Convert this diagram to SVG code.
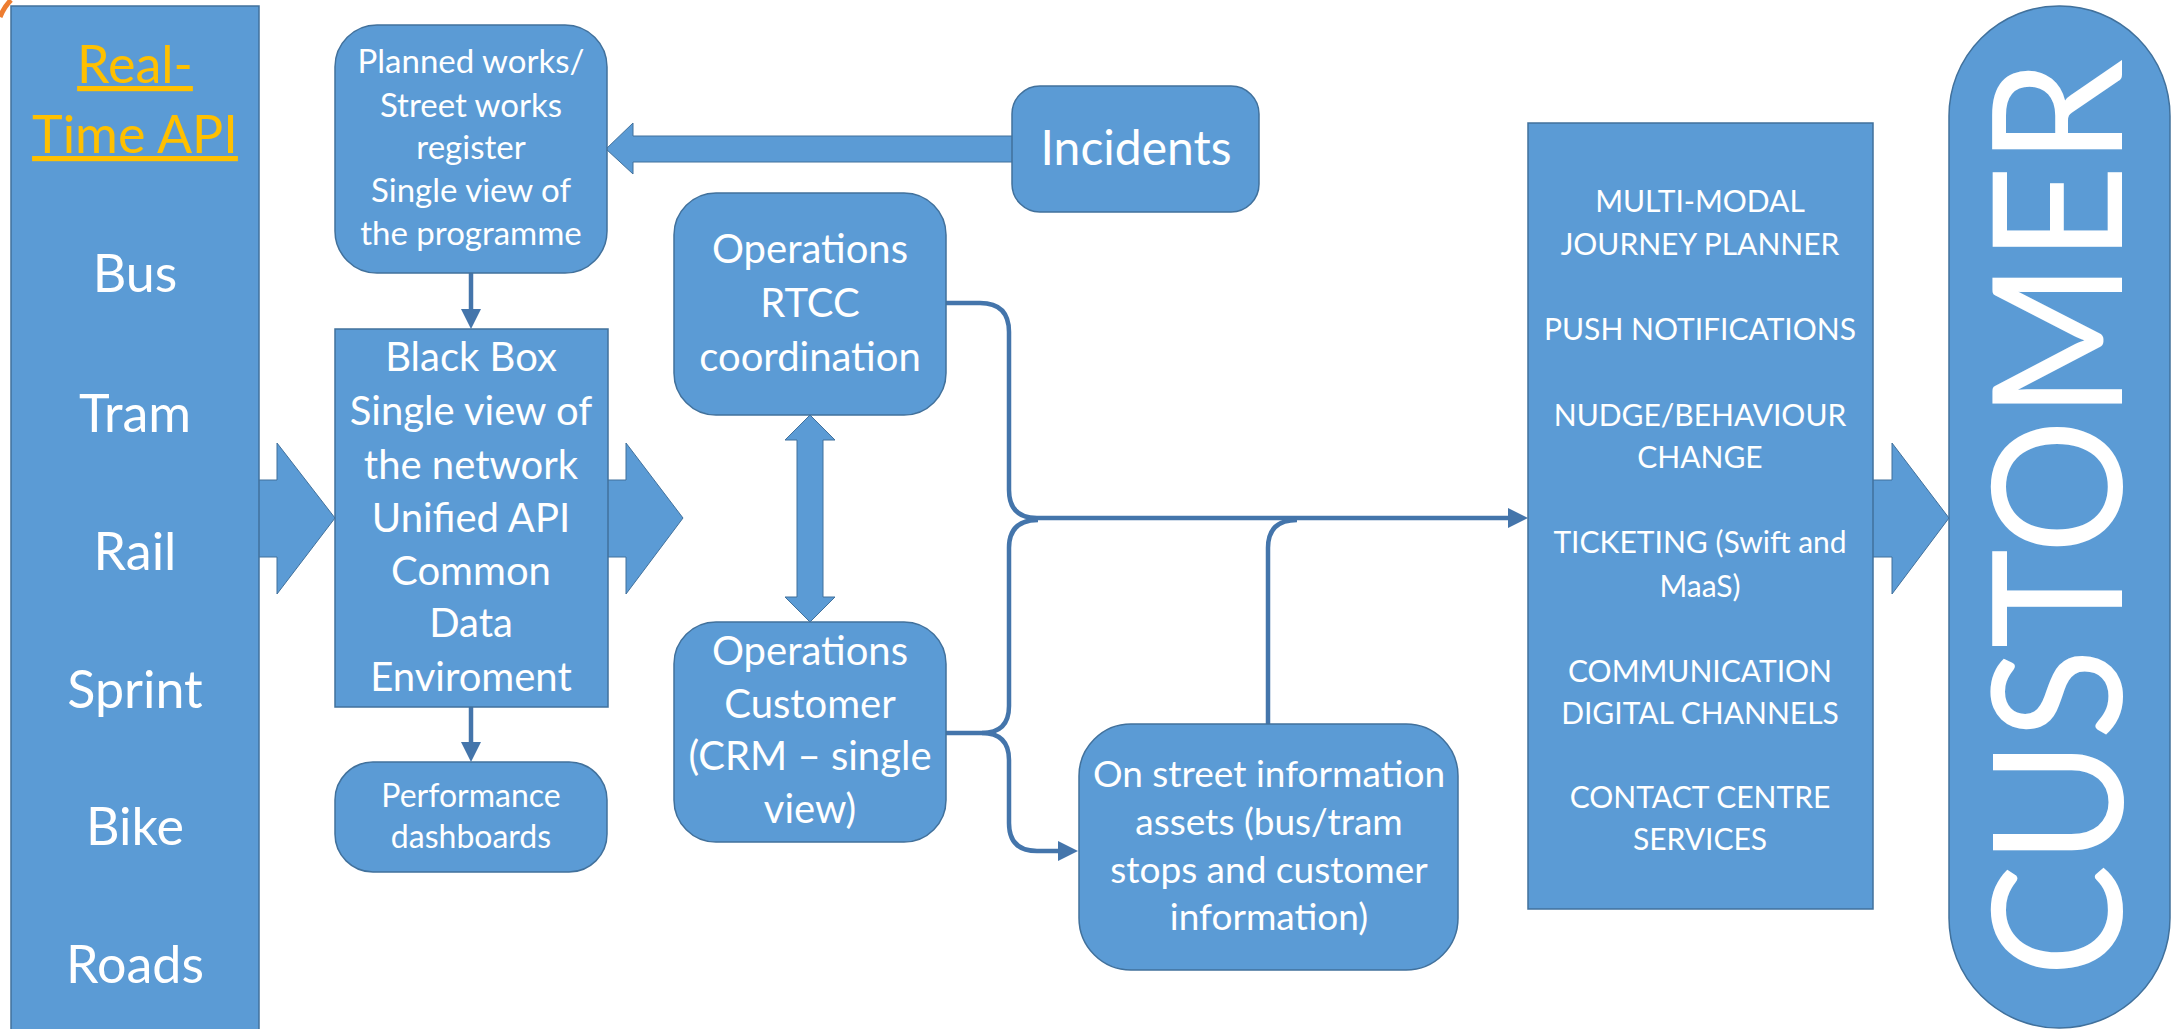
<svg xmlns="http://www.w3.org/2000/svg" width="2179" height="1029" viewBox="0 0 2179 1029">
  <style>
    .box { fill: #5B9BD5; stroke: #41719C; stroke-width: 1.5; }
    .blk { fill: #5B9BD5; stroke: #41719C; stroke-width: 1; }
    .t { font-family: Lato, "Open Sans", "Liberation Sans", sans-serif; fill: #FFFFFF; text-anchor: middle; }
    .gold { fill: #FFC000; text-decoration: underline; }
    .con { fill: none; stroke: #4475AB; stroke-width: 4.5; }
  </style>
  <defs>
    <marker id="ah" viewBox="0 0 20 20" refX="10" refY="10" markerWidth="20" markerHeight="20" markerUnits="userSpaceOnUse" orient="auto">
      <path d="M0,0 L20,10 L0,20 z" fill="#4475AB"/>
    </marker>
  </defs>
  <rect width="2179" height="1029" fill="#FFFFFF"/>
  <path d="M0,17 Q4,7 11,0" fill="none" stroke="#ED7D31" stroke-width="5"/>

  <!-- block arrows -->
  <g id="block-arrows">
    <polygon class="blk" points="240,480 277,480 277,443 335,518 277,594 277,557 240,557"/>
    <polygon class="blk" points="600,480 626,480 626,443 683,518 626,594 626,557 600,557"/>
    <polygon class="blk" points="1860,480 1892,480 1892,443 1949,518 1892,594 1892,557 1860,557"/>
    <polygon class="blk" points="1015,136 633,136 633,123 606,149 633,174 633,162 1015,162"/>
    <polygon class="blk" points="810,415 835,440 823,440 823,597 835,597 810,622 785,597 797,597 797,440 785,440"/>
  </g>

  <g id="connectors">
    <path class="con" d="M471,273 V319" marker-end="url(#ah)"/>
    <path class="con" d="M471,707 V752" marker-end="url(#ah)"/>
    <path class="con" d="M945,303 H980 Q1009,303 1009,332 V490 Q1009,518 1037,518 H1518" marker-end="url(#ah)"/>
    <path class="con" d="M945,733 H982 Q1009,733 1009,706 V548 Q1009,520 1038,520"/>
    <path class="con" d="M982,733 Q1009,733 1009,760 V823 Q1009,851 1037,851 H1068" marker-end="url(#ah)"/>
    <path class="con" d="M1268,724 V548 Q1268,520 1297,520"/>
  </g>

  <g id="realtime-panel">
    <rect class="box" x="11" y="6" width="248" height="1030"/>
    <text class="t gold" x="135" y="83" font-size="52">Real-</text>
    <text class="t gold" x="135" y="153" font-size="52">Time API</text>
    <text class="t" x="135" y="292" font-size="52">Bus</text>
    <text class="t" x="135" y="432" font-size="52">Tram</text>
    <text class="t" x="135" y="570" font-size="52">Rail</text>
    <text class="t" x="135" y="708" font-size="52">Sprint</text>
    <text class="t" x="135" y="845" font-size="52">Bike</text>
    <text class="t" x="135" y="983" font-size="52">Roads</text>
  </g>

  <g id="planned-works">
    <rect class="box" x="335" y="25" width="272" height="248" rx="42"/>
    <text class="t" x="471" y="73" font-size="33">Planned works/</text>
    <text class="t" x="471" y="117" font-size="33">Street works</text>
    <text class="t" x="471" y="159" font-size="33">register</text>
    <text class="t" x="471" y="202" font-size="33">Single view of</text>
    <text class="t" x="471" y="245" font-size="33">the programme</text>
  </g>

  <g id="black-box">
    <rect class="box" x="335" y="329" width="273" height="378"/>
    <text class="t" x="471" y="371" font-size="40">Black Box</text>
    <text class="t" x="471" y="425" font-size="40">Single view of</text>
    <text class="t" x="471" y="479" font-size="40">the network</text>
    <text class="t" x="471" y="532" font-size="40">Unified API</text>
    <text class="t" x="471" y="585" font-size="40">Common</text>
    <text class="t" x="471" y="637" font-size="40">Data</text>
    <text class="t" x="471" y="691" font-size="40">Enviroment</text>
  </g>

  <g id="performance">
    <rect class="box" x="335" y="762" width="272" height="110" rx="38"/>
    <text class="t" x="471" y="807" font-size="32">Performance</text>
    <text class="t" x="471" y="848" font-size="32">dashboards</text>
  </g>

  <g id="incidents">
    <rect class="box" x="1012" y="86" width="247" height="126" rx="28"/>
    <text class="t" x="1136" y="165" font-size="48">Incidents</text>
  </g>

  <g id="ops-rtcc">
    <rect class="box" x="674" y="193" width="272" height="222" rx="42"/>
    <text class="t" x="810" y="263" font-size="40">Operations</text>
    <text class="t" x="810" y="317" font-size="40">RTCC</text>
    <text class="t" x="810" y="371" font-size="40">coordination</text>
  </g>

  <g id="ops-customer">
    <rect class="box" x="674" y="622" width="272" height="220" rx="42"/>
    <text class="t" x="810" y="665" font-size="40">Operations</text>
    <text class="t" x="810" y="718" font-size="40">Customer</text>
    <text class="t" x="810" y="770" font-size="40">(CRM – single</text>
    <text class="t" x="810" y="823" font-size="40">view)</text>
  </g>

  <g id="on-street">
    <rect class="box" x="1079" y="724" width="379" height="246" rx="52"/>
    <text class="t" x="1269" y="787" font-size="37">On street information</text>
    <text class="t" x="1269" y="835" font-size="37">assets (bus/tram</text>
    <text class="t" x="1269" y="883" font-size="37">stops and customer</text>
    <text class="t" x="1269" y="930" font-size="37">information)</text>
  </g>

  <g id="services">
    <rect class="box" x="1528" y="123" width="345" height="786"/>
    <text class="t" x="1700" y="212" font-size="30">MULTI-MODAL</text>
    <text class="t" x="1700" y="255" font-size="30">JOURNEY PLANNER</text>
    <text class="t" x="1700" y="340" font-size="30">PUSH NOTIFICATIONS</text>
    <text class="t" x="1700" y="426" font-size="30">NUDGE/BEHAVIOUR</text>
    <text class="t" x="1700" y="468" font-size="30">CHANGE</text>
    <text class="t" x="1700" y="553" font-size="30">TICKETING (Swift and</text>
    <text class="t" x="1700" y="597" font-size="30">MaaS)</text>
    <text class="t" x="1700" y="682" font-size="30">COMMUNICATION</text>
    <text class="t" x="1700" y="724" font-size="30">DIGITAL CHANNELS</text>
    <text class="t" x="1700" y="808" font-size="30">CONTACT CENTRE</text>
    <text class="t" x="1700" y="850" font-size="30">SERVICES</text>
  </g>

  <g id="customer">
    <rect class="box" x="1949" y="6" width="221" height="1022" rx="110"/>
    <text class="t" transform="translate(2122,518) rotate(-90)" font-size="180" textLength="918" lengthAdjust="spacingAndGlyphs">CUSTOMER</text>
  </g>
</svg>
